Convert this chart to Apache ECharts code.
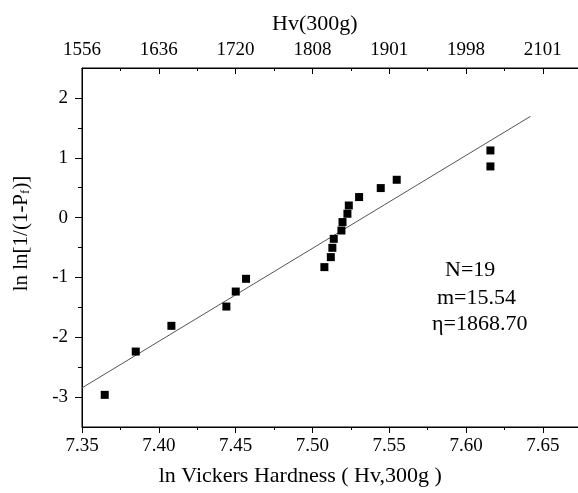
<!DOCTYPE html>
<html>
<head>
<meta charset="utf-8">
<script src="https://cdn.jsdelivr.net/npm/echarts@6/dist/echarts.min.js"></script>
<style>
  html, body { margin: 0; padding: 0; background: #fff; }
  #main { width: 578px; height: 493px; }
</style>
</head>
<body>
<div id="main"></div>
<script>
// ln of Vickers hardness and Weibull ln ln[1/(1-Pf)]
const lnHv = [7.3648, 7.3850, 7.4082, 7.4440, 7.4501, 7.4568, 7.5078, 7.5120, 7.5130, 7.5139,
              7.5189, 7.5196, 7.5228, 7.5237, 7.5304, 7.5445, 7.5549, 7.6159, 7.6159];
const lnln = [-2.963, -2.239, -1.809, -1.487, -1.236, -1.023, -0.828, -0.661, -0.505, -0.355,
              -0.216, -0.075, 0.064, 0.202, 0.343, 0.493, 0.632, 0.855, 1.122];
// fitted line end points
const fitX = [7.35, 7.642];
const fitY = [-2.846, 1.692];
// top axis tick labels (Hv)
const topLabels = ['1556', '1636', '1720', '1808', '1901', '1998', '2101'];
const yMajor = [-3, -2, -1, 0, 1, 2];
const yMinor = [-2.5, -1.5, -0.5, 0.5, 1.5];
const stats = ['N=19', 'm=15.54', 'η=1868.70'];

const font = "'Liberation Serif', 'Times New Roman', serif";
const black = '#000';

const chart = echarts.init(document.getElementById('main'));

const option = {
    animation: false,
    backgroundColor: '#fff',
    grid: {
        left: 82, top: 68, width: 537.6, height: 359,
        outerBoundsMode: 'none', containLabel: false,
        show: true, borderColor: black, borderWidth: 1, backgroundColor: 'transparent'
    },
    xAxis: [
        {
            type: 'value',
            position: 'bottom',
            min: 7.35,
            max: 7.7,
            interval: 0.05,
            axisLine: { show: true, onZero: false, lineStyle: { color: black, width: 1 } },
            axisTick: { show: true, length: 6, lineStyle: { color: black } },
            minorTick: { show: true, splitNumber: 2, length: 3, lineStyle: { color: black } },
            splitLine: { show: false },
            axisLabel: {
                fontFamily: font, fontSize: 19, color: black, margin: 10,
                formatter: (v) => v.toFixed(2)
            },
            name: 'ln Vickers Hardness ( Hv,300g )',
            nameLocation: 'middle',
            nameGap: 38,
            nameTextStyle: { fontFamily: font, fontSize: 22, color: black, padding: [0, 101, 0, 0] }
        },
        {
            type: 'value',
            position: 'top',
            min: 7.35,
            max: 7.7,
            interval: 0.05,
            z: 10,
            axisLine: { show: true, onZero: false, lineStyle: { color: black, width: 1 } },
            axisTick: { show: true, inside: true, length: 6, lineStyle: { color: black, width: 1 } },
            minorTick: { show: true, splitNumber: 2, length: 3, lineStyle: { color: black, width: 1 } },
            splitLine: { show: false },
            axisLabel: {
                fontFamily: font, fontSize: 19, color: black, margin: 8,
                formatter: (v, i) => topLabels[i] || ''
            },
            name: 'Hv(300g)',
            nameLocation: 'middle',
            nameGap: 33,
            nameTextStyle: { fontFamily: font, fontSize: 22, color: black, padding: [0, 72, 0, 0] }
        }
    ],
    yAxis: [
        {
            type: 'value',
            min: -3.5,
            max: 2.5,
            position: 'left',
            axisLine: { show: true, onZero: false, lineStyle: { color: black, width: 1 } },
            axisTick: { show: true, length: 7, customValues: yMajor, lineStyle: { color: black } },
            axisLabel: { fontFamily: font, fontSize: 19, color: black, margin: 14, customValues: yMajor },
            splitLine: { show: false },
            name: 'ln ln[1/(1-P{sub|f})]',
            nameLocation: 'middle',
            nameGap: 50,
            nameTextStyle: {
                fontFamily: font, fontSize: 21, color: black, padding: [0, 0, 0, 28],
                rich: { sub: { fontFamily: font, fontSize: 13, color: black, verticalAlign: 'bottom' } }
            }
        },
        {
            type: 'value',
            min: -3.5,
            max: 2.5,
            position: 'left',
            axisLine: { show: false, onZero: false },
            axisTick: { show: true, length: 4, customValues: yMinor, lineStyle: { color: black } },
            axisLabel: { show: false },
            splitLine: { show: false }
        }
    ],
    series: [
        {
            type: 'line',
            xAxisIndex: 0,
            yAxisIndex: 0,
            data: fitX.map((x, i) => [x, fitY[i]]),
            showSymbol: false,
            symbol: 'none',
            lineStyle: { color: '#555', width: 1 },
            z: 1
        },
        {
            type: 'scatter',
            xAxisIndex: 0,
            yAxisIndex: 0,
            data: lnHv.map((x, i) => [x, lnln[i]]),
            symbol: 'rect',
            symbolSize: 8,
            itemStyle: { color: black, opacity: 1 },
            z: 2
        }
    ],
    graphic: stats.map((t, i) => ({
        type: 'text',
        x: [445, 437, 432][i],
        y: [270, 298, 324][i],
        style: {
            text: t, fill: black, font: '22px ' + font,
            verticalAlign: 'middle', align: 'left'
        }
    }))
};

chart.setOption(option);
</script>
</body>
</html>
